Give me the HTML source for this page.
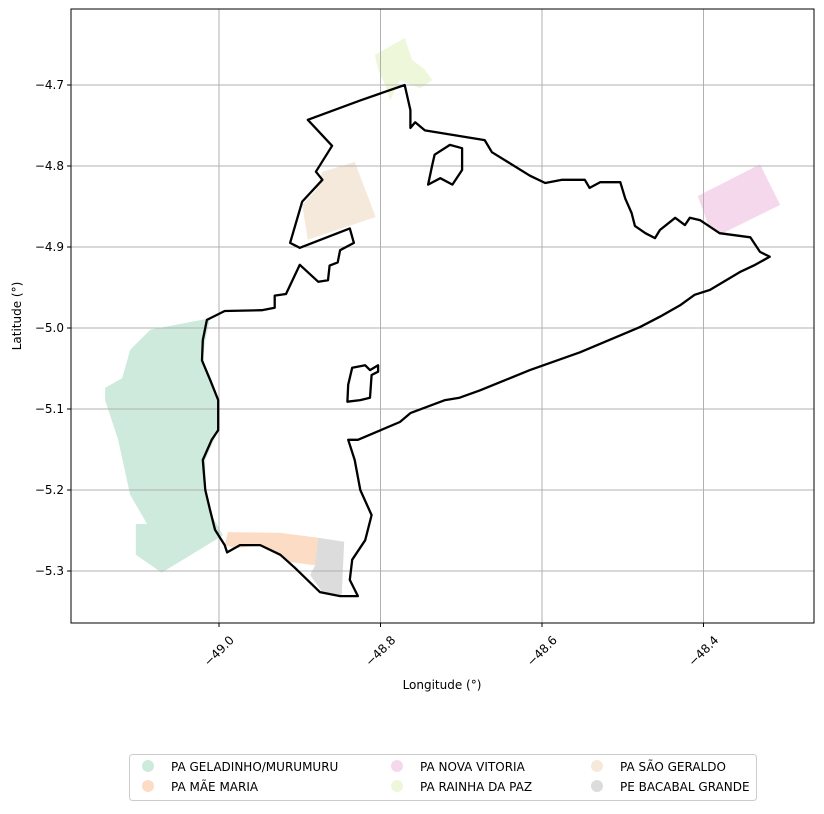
<!DOCTYPE html>
<html><head><meta charset="utf-8"><style>
body{margin:0;background:#fff;font-family:"Liberation Sans","DejaVu Sans",sans-serif}
svg text{font-family:"DejaVu Sans","Liberation Sans",sans-serif;font-size:12px;fill:#000}
</style></head><body>
<svg id="c" width="824" height="809" xmlns="http://www.w3.org/2000/svg"></svg>
<script>
const xTicks=[-49.0,-48.8,-48.6,-48.4];
const yTicks=[-4.7,-4.8,-4.9,-5.0,-5.1,-5.2,-5.3];
const regionNames=["PA GELADINHO/MURUMURU","PA MÃE MARIA","PA NOVA VITORIA","PA RAINHA DA PAZ","PA SÃO GERALDO","PE BACABAL GRANDE"];
const regionColors=["#cdeadd","#fddcc5","#f6d8ec","#eef7d9","#f5e9db","#dcdcdc"];
const geladinho=[[-49.104,-5.021],[-49.085,-5.002],[-49.011,-4.988],[-49.017,-5.015],[-49.020,-5.040],[-49.009,-5.064],[-49.001,-5.089],[-49.001,-5.126],[-49.017,-5.163],[-49.017,-5.200],[-49.009,-5.231],[-48.995,-5.256],[-49.071,-5.302],[-49.103,-5.280],[-49.103,-5.242],[-49.089,-5.242],[-49.110,-5.206],[-49.125,-5.138],[-49.141,-5.089],[-49.141,-5.074],[-49.120,-5.062],[-49.110,-5.027]];
const maeMaria=[[-48.989,-5.252],[-48.924,-5.253],[-48.877,-5.259],[-48.875,-5.274],[-48.881,-5.293],[-48.912,-5.289],[-48.949,-5.268],[-48.980,-5.272],[-48.993,-5.268]];
const novaVitoria=[[-48.407,-4.837],[-48.330,-4.798],[-48.305,-4.848],[-48.380,-4.885],[-48.394,-4.873]];
const rainha=[[-48.807,-4.663],[-48.770,-4.642],[-48.761,-4.669],[-48.745,-4.681],[-48.736,-4.694],[-48.751,-4.704],[-48.776,-4.694],[-48.788,-4.719],[-48.794,-4.700],[-48.803,-4.681]];
const saoGeraldo=[[-48.872,-4.807],[-48.832,-4.795],[-48.806,-4.863],[-48.890,-4.891],[-48.897,-4.848],[-48.880,-4.830]];
const bacabal=[[-48.877,-5.259],[-48.845,-5.264],[-48.848,-5.330],[-48.872,-5.326],[-48.887,-5.305],[-48.881,-5.293]];
const boundary=[[-48.770,-4.700],[-48.825,-4.719],[-48.890,-4.743],[-48.860,-4.775],[-48.880,-4.807],[-48.872,-4.817],[-48.897,-4.844],[-48.912,-4.895],[-48.900,-4.901],[-48.838,-4.877],[-48.833,-4.895],[-48.850,-4.904],[-48.853,-4.919],[-48.863,-4.923],[-48.865,-4.941],[-48.877,-4.943],[-48.900,-4.922],[-48.917,-4.958],[-48.931,-4.960],[-48.931,-4.975],[-48.947,-4.978],[-48.993,-4.979],[-49.015,-4.990],[-49.020,-5.015],[-49.021,-5.040],[-49.011,-5.064],[-49.001,-5.089],[-49.001,-5.126],[-49.009,-5.138],[-49.020,-5.163],[-49.017,-5.200],[-49.011,-5.225],[-49.005,-5.249],[-48.993,-5.268],[-48.990,-5.277],[-48.974,-5.268],[-48.949,-5.268],[-48.924,-5.280],[-48.906,-5.296],[-48.875,-5.326],[-48.850,-5.331],[-48.828,-5.331],[-48.838,-5.311],[-48.835,-5.286],[-48.819,-5.262],[-48.811,-5.231],[-48.825,-5.200],[-48.832,-5.163],[-48.840,-5.138],[-48.828,-5.138],[-48.776,-5.116],[-48.763,-5.105],[-48.720,-5.089],[-48.702,-5.086],[-48.677,-5.077],[-48.615,-5.052],[-48.553,-5.030],[-48.479,-4.999],[-48.454,-4.986],[-48.429,-4.972],[-48.411,-4.959],[-48.392,-4.953],[-48.355,-4.931],[-48.336,-4.922],[-48.318,-4.912],[-48.330,-4.906],[-48.342,-4.888],[-48.380,-4.883],[-48.404,-4.867],[-48.417,-4.864],[-48.423,-4.873],[-48.435,-4.864],[-48.454,-4.879],[-48.460,-4.889],[-48.472,-4.883],[-48.485,-4.874],[-48.489,-4.858],[-48.497,-4.840],[-48.503,-4.820],[-48.528,-4.820],[-48.541,-4.827],[-48.547,-4.817],[-48.575,-4.817],[-48.596,-4.821],[-48.615,-4.812],[-48.662,-4.783],[-48.671,-4.768],[-48.745,-4.756],[-48.757,-4.746],[-48.763,-4.753],[-48.763,-4.731]];
const hole1=[[-48.835,-5.049],[-48.819,-5.046],[-48.813,-5.052],[-48.803,-5.046],[-48.803,-5.054],[-48.811,-5.058],[-48.813,-5.086],[-48.825,-5.089],[-48.841,-5.091],[-48.840,-5.070]];
const hole2=[[-48.733,-4.786],[-48.714,-4.774],[-48.699,-4.778],[-48.699,-4.805],[-48.711,-4.823],[-48.726,-4.815],[-48.741,-4.823],[-48.736,-4.799]];

const NS="http://www.w3.org/2000/svg";
const svg=document.getElementById('c');
const L=71,R=814,T=9,B=623;
function sx(lon){return 219+(lon+49)*807.5;}
function sy(lat){return 85+(-4.7-lat)*810;}
function mk(tag,attrs,parent){const e=document.createElementNS(NS,tag);for(const k in attrs)e.setAttribute(k,attrs[k]);(parent||svg).appendChild(e);return e;}
function pts(a){return a.map(p=>sx(p[0]).toFixed(1)+','+sy(p[1]).toFixed(1)).join(' ');}

const regions=[geladinho,maeMaria,novaVitoria,rainha,saoGeraldo,bacabal];
const regionKeys=['geladinho','mae-maria','nova-vitoria','rainha-da-paz','sao-geraldo','bacabal-grande'];
regions.forEach((r,i)=>{
  const p=mk('polygon',{points:pts(r),fill:regionColors[i],stroke:'none'});
  
  
});
xTicks.forEach(t=>{
  const x=sx(t);
  const g=mk('line',{x1:x,x2:x,y1:T,y2:B,stroke:'#b0b0b0','stroke-width':1});
  
  
  mk('line',{x1:x,x2:x,y1:B,y2:B+4,stroke:'#000'});
  const cy=B+28;
  const tx=mk('text',{x:x,y:cy+4,'text-anchor':'middle',transform:`rotate(-45 ${x} ${cy})`});
  tx.textContent='\u2212'+Math.abs(t).toFixed(1);
  
  
});
yTicks.forEach(t=>{
  const y=sy(t);
  const g=mk('line',{x1:L,x2:R,y1:y,y2:y,stroke:'#b0b0b0','stroke-width':1});
  
  
  mk('line',{x1:L-4,x2:L,y1:y,y2:y,stroke:'#000'});
  const tx=mk('text',{x:L-7,y:y+4,'text-anchor':'end'});
  tx.textContent='\u2212'+Math.abs(t).toFixed(1);
  
  
});
[boundary,hole1,hole2].forEach((b,i)=>{
  const p=mk('polygon',{points:pts(b),fill:'none',stroke:'#000','stroke-width':2.3,'stroke-linejoin':'round'});
  
  
});
const fr=mk('rect',{x:L,y:T,width:R-L,height:B-T,fill:'none',stroke:'#000','stroke-width':1});


const xl=mk('text',{x:442,y:689,'text-anchor':'middle'});xl.textContent='Longitude (°)';


const yl=mk('text',{x:21,y:316,'text-anchor':'middle',transform:'rotate(-90 21 316)'});yl.textContent='Latitude (°)';


const lg=mk('rect',{x:129.5,y:754.5,width:627,height:46,rx:3,fill:'#fff',stroke:'#ccc'});


const colX=[148,397,597],rowY=[766,786];
regionNames.forEach((n,i)=>{
  const cx=colX[Math.floor(i/2)],cy=rowY[i%2];
  const c=mk('circle',{cx:cx,cy:cy,r:6,fill:regionColors[i]});
  
  
  const t=mk('text',{x:cx+23,y:cy+5});t.textContent=n;
  
  
});
</script>
</body></html>
